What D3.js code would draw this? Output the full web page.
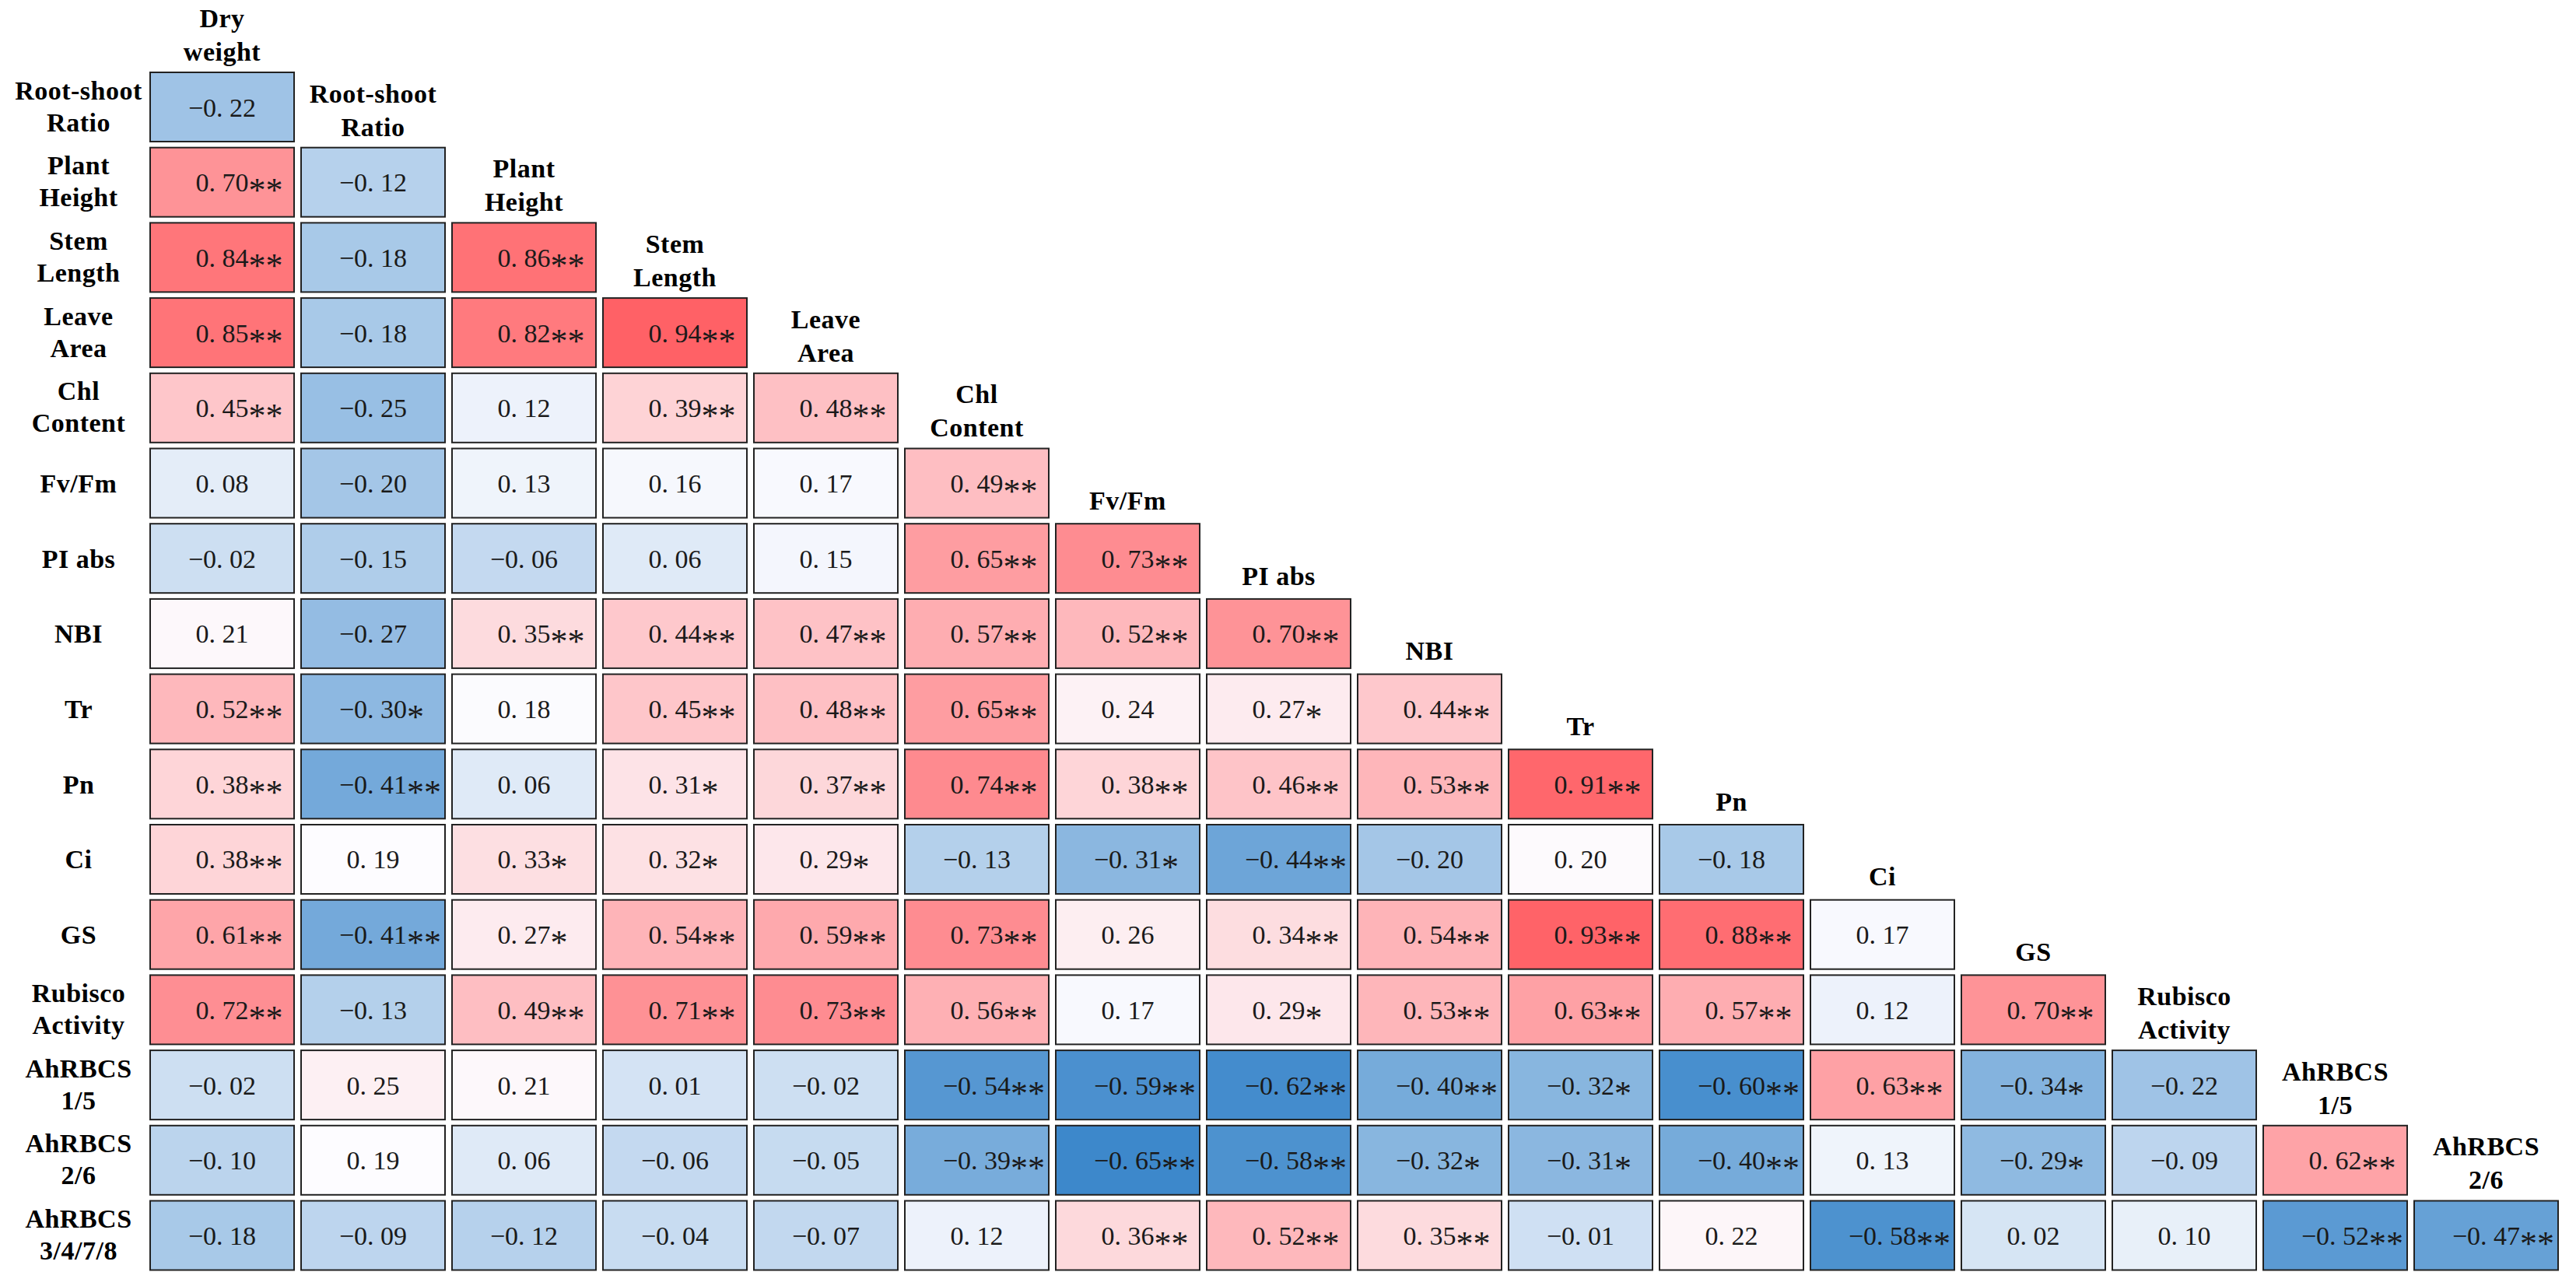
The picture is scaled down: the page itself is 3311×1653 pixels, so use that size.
<!DOCTYPE html>
<html>
<head>
<meta charset="utf-8">
<script src="https://cdn.jsdelivr.net/npm/d3@7"></script>
<style>
html, body { margin: 0; padding: 0; background: #ffffff; }
svg { display: block; }
</style>
</head>
<body>
<svg id="chart" width="3311" height="1653"></svg>
<script>
// ---------------- DATA ----------------
const rowLabels = [
  ["Root-shoot", "Ratio"],
  ["Plant", "Height"],
  ["Stem", "Length"],
  ["Leave", "Area"],
  ["Chl", "Content"],
  ["Fv/Fm"],
  ["PI abs"],
  ["NBI"],
  ["Tr"],
  ["Pn"],
  ["Ci"],
  ["GS"],
  ["Rubisco", "Activity"],
  ["AhRBCS", "1/5"],
  ["AhRBCS", "2/6"],
  ["AhRBCS", "3/4/7/8"]
];

const colLabels = [
  ["Dry", "weight"],
  ["Root-shoot", "Ratio"],
  ["Plant", "Height"],
  ["Stem", "Length"],
  ["Leave", "Area"],
  ["Chl", "Content"],
  ["Fv/Fm"],
  ["PI abs"],
  ["NBI"],
  ["Tr"],
  ["Pn"],
  ["Ci"],
  ["GS"],
  ["Rubisco", "Activity"],
  ["AhRBCS", "1/5"],
  ["AhRBCS", "2/6"]
];

const values = [
  [-0.22],
  [0.70, -0.12],
  [0.84, -0.18, 0.86],
  [0.85, -0.18, 0.82, 0.94],
  [0.45, -0.25, 0.12, 0.39, 0.48],
  [0.08, -0.20, 0.13, 0.16, 0.17, 0.49],
  [-0.02, -0.15, -0.06, 0.06, 0.15, 0.65, 0.73],
  [0.21, -0.27, 0.35, 0.44, 0.47, 0.57, 0.52, 0.70],
  [0.52, -0.30, 0.18, 0.45, 0.48, 0.65, 0.24, 0.27, 0.44],
  [0.38, -0.41, 0.06, 0.31, 0.37, 0.74, 0.38, 0.46, 0.53, 0.91],
  [0.38, 0.19, 0.33, 0.32, 0.29, -0.13, -0.31, -0.44, -0.20, 0.20, -0.18],
  [0.61, -0.41, 0.27, 0.54, 0.59, 0.73, 0.26, 0.34, 0.54, 0.93, 0.88, 0.17],
  [0.72, -0.13, 0.49, 0.71, 0.73, 0.56, 0.17, 0.29, 0.53, 0.63, 0.57, 0.12, 0.70],
  [-0.02, 0.25, 0.21, 0.01, -0.02, -0.54, -0.59, -0.62, -0.40, -0.32, -0.60, 0.63, -0.34, -0.22],
  [-0.10, 0.19, 0.06, -0.06, -0.05, -0.39, -0.65, -0.58, -0.32, -0.31, -0.40, 0.13, -0.29, -0.09, 0.62],
  [-0.18, -0.09, -0.12, -0.04, -0.07, 0.12, 0.36, 0.52, 0.35, -0.01, 0.22, -0.58, 0.02, 0.10, -0.52, -0.47]
];

const stars = [
  [""],
  ["**", ""],
  ["**", "", "**"],
  ["**", "", "**", "**"],
  ["**", "", "", "**", "**"],
  ["", "", "", "", "", "**"],
  ["", "", "", "", "", "**", "**"],
  ["", "", "**", "**", "**", "**", "**", "**"],
  ["**", "*", "", "**", "**", "**", "", "*", "**"],
  ["**", "**", "", "*", "**", "**", "**", "**", "**", "**"],
  ["**", "", "*", "*", "*", "", "*", "**", "", "", ""],
  ["**", "**", "*", "**", "**", "**", "", "**", "**", "**", "**", ""],
  ["**", "", "**", "**", "**", "**", "", "*", "**", "**", "**", "", "**"],
  ["", "", "", "", "", "**", "**", "**", "**", "*", "**", "**", "*", ""],
  ["", "", "", "", "", "**", "**", "**", "*", "*", "**", "", "*", "", "**"],
  ["", "", "", "", "", "", "**", "**", "**", "", "", "**", "", "", "**", "**"]
];

// ---------------- LAYOUT ----------------
const W = 3311, H = 1653;
const svg = d3.select("#chart");
svg.append("rect").attr("width", W).attr("height", H).attr("fill", "#ffffff");

const rowIdx = d3.range(rowLabels.length);
const colIdx = d3.range(colLabels.length);

const x = d3.scaleBand().domain(colIdx).range([193, 3288]).paddingInner(0.0464).paddingOuter(0);
const y = d3.scaleBand().domain(rowIdx).range([93, 1632.5]).paddingInner(0.0796).paddingOuter(0);

const cells = [];
values.forEach((row, r) => row.forEach((v, c) => cells.push({ r, c, v, s: stars[r][c] })));

const allVals = cells.map(d => d.v);
const color = d3.scaleLinear()
  .domain([d3.min(allVals), d3.median(allVals), d3.max(allVals)])
  .range(["#3d88cb", "#fdfcff", "#ff6166"])
  .interpolate(d3.interpolateRgb);

const fmt = d3.format(".2f");
const numText = v => fmt(v).replace(".", ". ");

// cells
const g = svg.append("g");
g.selectAll("rect.cell").data(cells).join("rect")
  .attr("class", "cell")
  .attr("x", d => x(d.c))
  .attr("y", d => y(d.r))
  .attr("width", x.bandwidth())
  .attr("height", y.bandwidth())
  .attr("fill", d => color(d.v))
  .attr("stroke", "#222222")
  .attr("stroke-width", 2);

const labels = g.selectAll("text.val").data(cells).join("text")
  .attr("class", "val")
  .attr("y", d => y(d.r) + y.bandwidth() / 2 + 12)
  .attr("font-family", "'Liberation Serif', 'Times New Roman', serif")
  .attr("font-size", 34)
  .attr("fill", "#1a1a1a")
  .attr("text-anchor", "start");

labels.each(function(d) {
  const t = d3.select(this);
  const num = t.append("tspan").text(numText(d.v));
  if (d.s) t.append("tspan").attr("dy", 13).attr("font-size", 44).text(d.s);
  const w = num.node().getComputedTextLength();
  t.attr("x", x(d.c) + x.bandwidth() / 2 - w / 2);
});

// row labels
const labelFont = "'Liberation Serif', 'Times New Roman', serif";
const rowG = svg.append("g");
rowLabels.forEach((lines, r) => {
  const cy = y(r) + y.bandwidth() / 2;
  const t = rowG.append("text")
    .attr("text-anchor", "middle")
    .attr("font-family", labelFont)
    .attr("font-weight", "bold")
    .attr("font-size", 34)
    .attr("letter-spacing", 0.5)
    .attr("fill", "#000");
  if (lines.length === 1) {
    t.append("tspan").attr("x", 101).attr("y", cy + 12).text(lines[0]);
  } else {
    t.append("tspan").attr("x", 101).attr("y", cy - 10).text(lines[0]);
    t.append("tspan").attr("x", 101).attr("y", cy + 31).text(lines[1]);
  }
});

// column headers (sit in the slot just above each diagonal cell)
const step = y.step();
const colG = svg.append("g");
colLabels.forEach((lines, c) => {
  const cx = x(c) + x.bandwidth() / 2;
  const cy = y(0) + (c - 1) * step + y.bandwidth() / 2;
  const t = colG.append("text")
    .attr("text-anchor", "middle")
    .attr("font-family", labelFont)
    .attr("font-weight", "bold")
    .attr("font-size", 34)
    .attr("letter-spacing", 0.5)
    .attr("fill", "#000");
  if (lines.length === 1) {
    t.append("tspan").attr("x", cx).attr("y", cy + 34).text(lines[0]);
  } else {
    t.append("tspan").attr("x", cx).attr("y", cy - 6).text(lines[0]);
    t.append("tspan").attr("x", cx).attr("y", cy + 37).text(lines[1]);
  }
});
</script>
</body>
</html>
